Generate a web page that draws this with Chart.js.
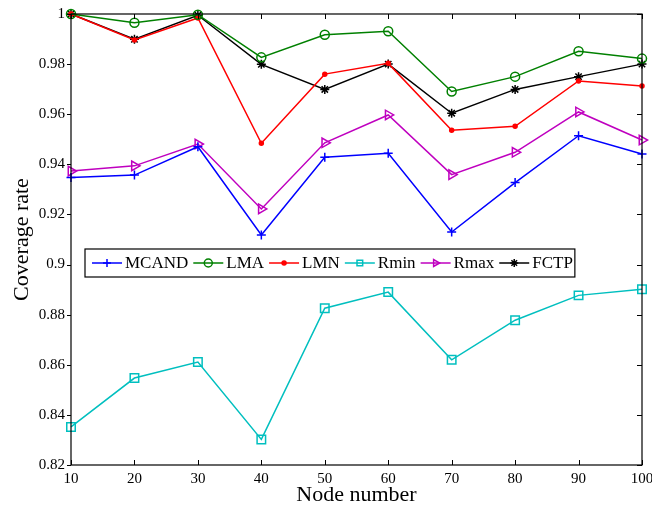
<!DOCTYPE html>
<html>
<head>
<meta charset="utf-8">
<script src="https://cdn.jsdelivr.net/npm/chart.js"></script>
<style>
body { margin: 0; background: #fff; }
</style>
</head>
<body>
<canvas id="myChart" width="652" height="507"></canvas>
<script>
var nodes = [10, 20, 30, 40, 50, 60, 70, 80, 90, 100];
var mcand = [0.9347, 0.9357, 0.9470, 0.9118, 0.9428, 0.9444, 0.9130, 0.9327, 0.9514, 0.9441];
var lma   = [1.0000, 0.9965, 0.9997, 0.9827, 0.9917, 0.9931, 0.9691, 0.9750, 0.9851, 0.9822];
var lmn   = [1.0000, 0.9896, 0.9984, 0.9484, 0.9760, 0.9803, 0.9536, 0.9552, 0.9733, 0.9713];
var rmin  = [0.8352, 0.8547, 0.8611, 0.8302, 0.8826, 0.8890, 0.8620, 0.8778, 0.8877, 0.8901];
var rmax  = [0.9373, 0.9394, 0.9481, 0.9222, 0.9486, 0.9597, 0.9359, 0.9448, 0.9609, 0.9497];
var fctp  = [1.0000, 0.9899, 0.9995, 0.9799, 0.9699, 0.9800, 0.9604, 0.9699, 0.9750, 0.9800];

var serif = '"Liberation Serif", "Times New Roman", serif';

function series(label, values, color, style, radius, fill, rotation) {
    return {
        label: label,
        data: values,
        borderColor: color,
        backgroundColor: color,
        borderWidth: 1.5,
        pointStyle: style,
        pointRadius: radius,
        pointHoverRadius: radius,
        pointBorderColor: color,
        pointBackgroundColor: fill ? color : 'rgba(0,0,0,0)',
        pointBorderWidth: 1.5,
        pointRotation: rotation || 0,
        tension: 0,
        clip: false
    };
}

var datasets = [
    series('MCAND', mcand, '#0000ff', 'cross', 4.5, false),
    series('LMA', lma, '#008000', 'circle', 4.5, false),
    series('LMN', lmn, '#ff0000', 'circle', 2, true),
    series('Rmin', rmin, '#00bfbf', 'rect', 6, false),
    series('Rmax', rmax, '#bf00bf', 'triangle', 5.5, false, 90),
    series('FCTP', fctp, '#000000', 'star', 4.5, true)
];

// box and tick marks, MATLAB style
var frame = {
    id: 'frame',
    afterDraw: function(chart) {
        var ctx = chart.ctx, a = chart.chartArea;
        var xs = chart.scales.x, ys = chart.scales.y;
        ctx.save();
        ctx.strokeStyle = '#000';
        ctx.lineWidth = 1.2;
        ctx.strokeRect(a.left, a.top, a.right - a.left, a.bottom - a.top);
        ctx.lineWidth = 1;
        ctx.beginPath();
        xs.ticks.forEach(function(t, i) {
            var px = Math.round(xs.getPixelForTick(i)) + 0.5;
            ctx.moveTo(px, a.bottom); ctx.lineTo(px, a.bottom - 5);
            ctx.moveTo(px, a.top); ctx.lineTo(px, a.top + 5);
        });
        ys.ticks.forEach(function(t, i) {
            var py = Math.round(ys.getPixelForTick(i)) + 0.5;
            ctx.moveTo(a.left, py); ctx.lineTo(a.left - 4, py);
            ctx.moveTo(a.right, py); ctx.lineTo(a.right - 5, py);
        });
        ctx.stroke();
        ctx.restore();
    }
};

// legend inside the plot: line + marker + name
var legendBox = {
    id: 'legendBox',
    afterDraw: function(chart) {
        var ctx = chart.ctx;
        var left = 85, top = 249, h = 28, cy = top + h / 2;
        ctx.save();
        ctx.font = '17px ' + serif;
        var x = left + 7;
        var items = [];
        chart.data.datasets.forEach(function(ds) {
            var w = ctx.measureText(ds.label).width;
            items.push({ ds: ds, x: x });
            x += 33 + w + 5;
        });
        var right = x - 3;
        ctx.fillStyle = '#fff';
        ctx.fillRect(left, top, right - left, h);
        ctx.strokeStyle = '#000';
        ctx.lineWidth = 1.2;
        ctx.strokeRect(left, top, right - left, h);
        items.forEach(function(it) {
            var ds = it.ds;
            ctx.strokeStyle = ds.borderColor;
            ctx.lineWidth = 1.5;
            ctx.beginPath();
            ctx.moveTo(it.x, cy); ctx.lineTo(it.x + 30, cy);
            ctx.stroke();
            ctx.save();
            ctx.strokeStyle = ds.borderColor;
            ctx.fillStyle = ds.pointBackgroundColor;
            Chart.helpers.drawPoint(ctx, {
                pointStyle: ds.pointStyle,
                radius: Math.min(ds.pointRadius, 4),
                rotation: ds.pointRotation,
                borderWidth: 1.5
            }, it.x + 15, cy);
            ctx.restore();
            ctx.fillStyle = '#000';
            ctx.textBaseline = 'middle';
            ctx.fillText(ds.label, it.x + 33, cy + 1);
        });
        ctx.restore();
    }
};

var ctx = document.getElementById('myChart').getContext('2d');
var myChart = new Chart(ctx, {
    type: 'line',
    data: { labels: nodes, datasets: datasets },
    options: {
        responsive: false,
        animation: false,
        events: [],
        layout: { padding: { top: 14, right: 10, left: 0, bottom: 0 } },
        plugins: { legend: { display: false }, tooltip: { enabled: false } },
        scales: {
            x: {
                type: 'category',
                offset: false,
                grid: { display: false, drawTicks: false },
                border: { display: false },
                ticks: { color: '#000', font: { family: serif, size: 15 }, padding: 5, maxRotation: 0, autoSkip: false },
                title: { display: true, text: 'Node number', color: '#000', font: { family: serif, size: 22 }, padding: { top: 0, bottom: -1 } },
                afterFit: function(s) { s.height = 42; s.paddingLeft = 0; s.paddingRight = 0; }
            },
            y: {
                min: 0.82,
                max: 1,
                grid: { display: false, drawTicks: false },
                border: { display: false },
                ticks: {
                    stepSize: 0.02,
                    color: '#000',
                    font: { family: serif, size: 15 },
                    padding: 6,
                    callback: function(v) { return String(+v.toFixed(2)); }
                },
                title: { display: true, text: 'Coverage rate', color: '#000', font: { family: serif, size: 22 }, padding: { top: 9, bottom: 0 } },
                afterFit: function(s) { s.width = 71; s.paddingTop = 0; s.paddingBottom = 0; }
            }
        }
    },
    plugins: [frame, legendBox]
});
</script>
</body>
</html>
